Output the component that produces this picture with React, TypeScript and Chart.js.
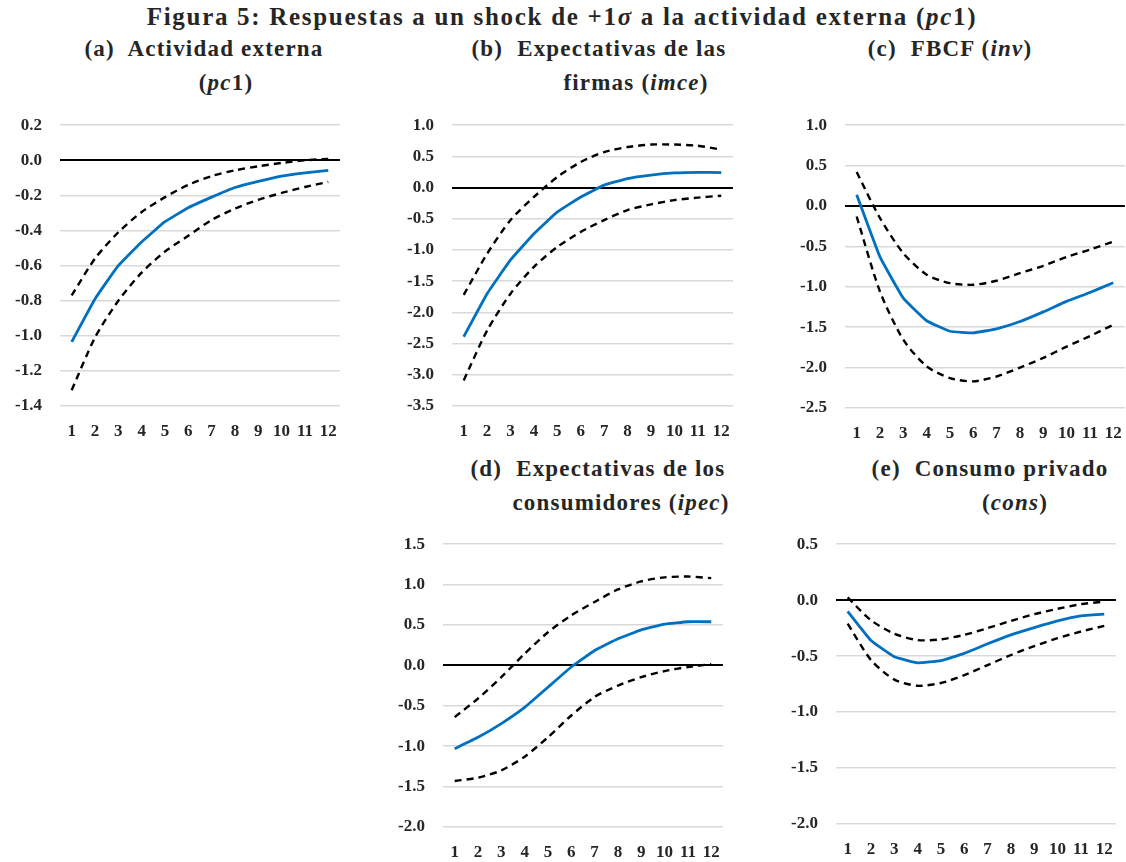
import React, { useEffect, useRef } from "react";
import { Chart, registerables } from "chart.js";

Chart.register(...registerables);

const FONT = '"Liberation Serif", "Times New Roman", serif';

// ---- data ----
const periods = ["1", "2", "3", "4", "5", "6", "7", "8", "9", "10", "11", "12"];

const pc1Central = [-1.035, -0.79, -0.6, -0.465, -0.35, -0.27, -0.21, -0.155, -0.12, -0.09, -0.072, -0.057];
const pc1Upper = [-0.77, -0.56, -0.41, -0.295, -0.21, -0.14, -0.09, -0.057, -0.034, -0.015, 0.0, 0.008];
const pc1Lower = [-1.31, -1.01, -0.8, -0.64, -0.52, -0.43, -0.34, -0.275, -0.225, -0.186, -0.152, -0.123];
const pc1Ticks = [0.2, 0.0, -0.2, -0.4, -0.6, -0.8, -1.0, -1.2, -1.4];

const imceCentral = [-2.39, -1.7, -1.16, -0.74, -0.39, -0.15, 0.04, 0.145, 0.2, 0.235, 0.245, 0.24];
const imceUpper = [-1.72, -1.06, -0.52, -0.15, 0.17, 0.41, 0.57, 0.65, 0.69, 0.69, 0.67, 0.61];
const imceLower = [-3.09, -2.29, -1.7, -1.27, -0.95, -0.71, -0.52, -0.36, -0.27, -0.2, -0.16, -0.13];
const imceTicks = [1.0, 0.5, 0.0, -0.5, -1.0, -1.5, -2.0, -2.5, -3.0, -3.5];

const invCentral = [0.14, -0.63, -1.14, -1.42, -1.55, -1.57, -1.52, -1.43, -1.31, -1.18, -1.07, -0.95];
const invUpper = [0.42, -0.15, -0.585, -0.85, -0.955, -0.975, -0.925, -0.83, -0.74, -0.63, -0.54, -0.44];
const invLower = [-0.13, -1.06, -1.655, -1.985, -2.13, -2.17, -2.11, -2.0, -1.88, -1.74, -1.61, -1.47];
const invTicks = [1.0, 0.5, 0.0, -0.5, -1.0, -1.5, -2.0, -2.5];

const ipecCentral = [-1.03, -0.89, -0.72, -0.52, -0.27, -0.02, 0.185, 0.33, 0.44, 0.51, 0.54, 0.54];
const ipecUpper = [-0.64, -0.41, -0.145, 0.145, 0.41, 0.62, 0.785, 0.94, 1.04, 1.09, 1.1, 1.08];
const ipecLower = [-1.43, -1.39, -1.3, -1.13, -0.89, -0.62, -0.39, -0.25, -0.145, -0.07, -0.02, 0.016];
const ipecTicks = [1.5, 1.0, 0.5, 0.0, -0.5, -1.0, -1.5, -2.0];

const consCentral = [-0.1, -0.36, -0.505, -0.56, -0.54, -0.475, -0.39, -0.31, -0.245, -0.185, -0.14, -0.125];
const consUpper = [0.024, -0.18, -0.3, -0.357, -0.35, -0.31, -0.25, -0.185, -0.125, -0.077, -0.036, -0.012];
const consLower = [-0.21, -0.535, -0.71, -0.765, -0.74, -0.67, -0.58, -0.49, -0.41, -0.34, -0.28, -0.23];
const consTicks = [0.5, 0.0, -0.5, -1.0, -1.5, -2.0];

type PanelProps = {
  central: number[];
  upper: number[];
  lower: number[];
  ticks: number[];
  plotLeft: number;
  plotRight: number;
  plotTop: number;
  plotBottom: number;
};

const Y_AXIS_W = 60;
const X_AXIS_H = 40;
const PAD_TOP = 12;
const PAD_RIGHT = 6;
const TEXT = "#262626";

function Panel(p: PanelProps) {
  const ref = useRef<HTMLCanvasElement | null>(null);
  const left = p.plotLeft - Y_AXIS_W;
  const top = p.plotTop - PAD_TOP;
  const width = p.plotRight - left + PAD_RIGHT;
  const height = p.plotBottom - top + X_AXIS_H;

  useEffect(() => {
    const canvas = ref.current;
    if (!canvas) return;
    const ymin = Math.min(...p.ticks);
    const ymax = Math.max(...p.ticks);
    const tickFont = { family: FONT, size: 17, weight: "bold" as const };
    const dashed = {
      borderColor: "#000000",
      borderWidth: 2.4,
      borderDash: [7, 5],
      pointRadius: 0,
      fill: false,
      tension: 0.25,
    };
    const chart = new Chart(canvas, {
      type: "line",
      data: {
        labels: periods,
        datasets: [
          { ...dashed, data: p.upper },
          { ...dashed, data: p.lower },
          {
            data: p.central,
            borderColor: "#0070C0",
            borderWidth: 2.8,
            pointRadius: 0,
            fill: false,
            tension: 0.1,
          },
        ],
      },
      options: {
        animation: false,
        responsive: false,
        maintainAspectRatio: false,
        layout: { padding: { top: PAD_TOP, right: PAD_RIGHT, left: 0, bottom: 0 } },
        plugins: { legend: { display: false }, tooltip: { enabled: false } },
        scales: {
          x: {
            type: "category",
            offset: true,
            grid: { display: false, drawTicks: false },
            border: { display: false },
            ticks: {
              font: tickFont,
              color: TEXT,
              padding: 15,
              maxRotation: 0,
              autoSkip: false,
            },
            afterFit: (s: any) => {
              s.height = X_AXIS_H;
            },
          },
          y: {
            type: "linear",
            min: ymin,
            max: ymax,
            grid: {
              drawTicks: false,
              color: (ctx: any) =>
                ctx.tick && Math.abs(ctx.tick.value) < 1e-9 ? "#000000" : "#d9d9d9",
              lineWidth: (ctx: any) =>
                ctx.tick && Math.abs(ctx.tick.value) < 1e-9 ? 2 : 1.6,
            },
            border: { display: false },
            ticks: {
              font: tickFont,
              color: TEXT,
              padding: 18,
              callback: (v: any) => {
                const n = Math.abs(Number(v)) < 1e-9 ? 0 : Number(v);
                return n.toFixed(1);
              },
            },
            afterBuildTicks: (s: any) => {
              s.ticks = p.ticks.map((v) => ({ value: v }));
            },
            afterFit: (s: any) => {
              s.width = Y_AXIS_W;
            },
          },
        },
      },
    } as any);

    // align the chart area exactly to the intended plot rectangle
    const ca = chart.chartArea;
    const newW = Math.round(width + (p.plotRight - p.plotLeft) - (ca.right - ca.left));
    const newH = Math.round(height + (p.plotBottom - p.plotTop) - (ca.bottom - ca.top));
    chart.resize(newW, newH);
    chart.update();
    const ca2 = chart.chartArea;
    canvas.style.width = newW + "px";
    canvas.style.height = newH + "px";
    canvas.style.left = Math.round(p.plotLeft - ca2.left) + "px";
    canvas.style.top = Math.round(p.plotTop - ca2.top) + "px";

    return () => chart.destroy();
  }, []);

  return (
    <canvas
      ref={ref}
      width={width}
      height={height}
      style={{ position: "absolute", left, top, width, height }}
    />
  );
}

const titleStyle: React.CSSProperties = {
  position: "absolute",
  fontFamily: FONT,
  fontWeight: "bold",
  color: TEXT,
  whiteSpace: "nowrap",
  textAlign: "center",
  width: 1000,
  lineHeight: "28px",
};

function Line({
  cx,
  cy,
  size,
  spacing,
  children,
}: {
  cx: number;
  cy: number;
  size: number;
  spacing: number;
  children: React.ReactNode;
}) {
  return (
    <div
      style={{
        ...titleStyle,
        left: cx - 500,
        top: cy - 14,
        fontSize: size,
        letterSpacing: spacing,
      }}
    >
      {children}
    </div>
  );
}

const M = ({ children }: { children: React.ReactNode }) => (
  <span style={{ fontStyle: "italic" }}>{children}</span>
);

export default function App() {
  useEffect(() => {
    document.body.style.margin = "0";
  }, []);
  const S = 23;
  const LS = 1.2;
  return (
    <div
      style={{
        position: "fixed",
        left: 0,
        top: 0,
        width: 1126,
        height: 862,
        overflow: "hidden",
        background: "#ffffff",
      }}
    >
      <Line cx={562} cy={17} size={25} spacing={1.7}>
        Figura 5: Respuestas a un shock de +1<M>σ</M> a la actividad externa (<M>pc</M>1)
      </Line>

      <Line cx={204} cy={49} size={S} spacing={LS}>(a)&nbsp; Actividad externa</Line>
      <Line cx={226} cy={83} size={S} spacing={LS}>(<M>pc</M>1)</Line>

      <Line cx={599} cy={49} size={S} spacing={LS}>(b)&nbsp; Expectativas de las</Line>
      <Line cx={636} cy={83} size={S} spacing={LS}>firmas (<M>imce</M>)</Line>

      <Line cx={950} cy={49} size={S} spacing={LS}>(c)&nbsp; FBCF (<M>inv</M>)</Line>

      <Line cx={598} cy={469} size={S} spacing={LS}>(d)&nbsp; Expectativas de los</Line>
      <Line cx={621} cy={503} size={S} spacing={LS}>consumidores (<M>ipec</M>)</Line>

      <Line cx={990} cy={469} size={S} spacing={LS}>(e)&nbsp; Consumo privado</Line>
      <Line cx={1015} cy={503} size={S} spacing={LS}>(<M>cons</M>)</Line>

      <Panel central={pc1Central} upper={pc1Upper} lower={pc1Lower} ticks={pc1Ticks}
        plotLeft={60} plotRight={340} plotTop={125} plotBottom={406} />
      <Panel central={imceCentral} upper={imceUpper} lower={imceLower} ticks={imceTicks}
        plotLeft={452} plotRight={733} plotTop={125} plotBottom={406} />
      <Panel central={invCentral} upper={invUpper} lower={invLower} ticks={invTicks}
        plotLeft={845} plotRight={1125} plotTop={125} plotBottom={408} />
      <Panel central={ipecCentral} upper={ipecUpper} lower={ipecLower} ticks={ipecTicks}
        plotLeft={443} plotRight={723} plotTop={544} plotBottom={827} />
      <Panel central={consCentral} upper={consUpper} lower={consLower} ticks={consTicks}
        plotLeft={836} plotRight={1116} plotTop={544} plotBottom={824} />
    </div>
  );
}
